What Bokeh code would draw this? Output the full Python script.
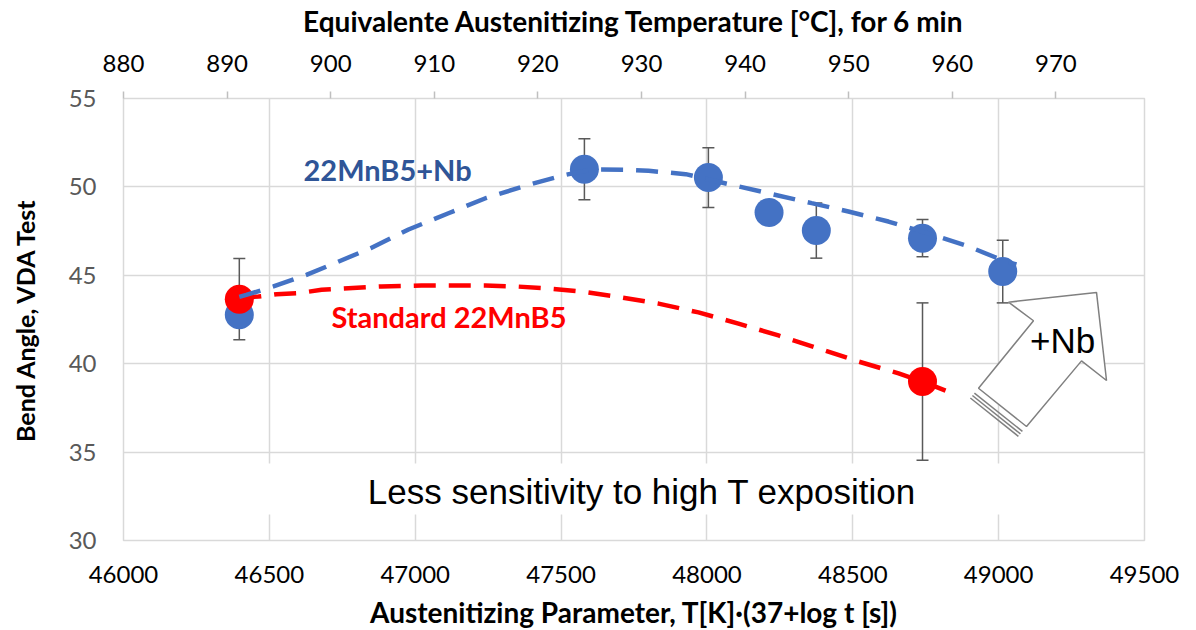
from bokeh.plotting import figure
from bokeh.models import Range1d, LinearAxis, FixedTicker, BoxAnnotation
from bokeh.core.properties import value
from bokeh.embed import file_html
from bokeh.resources import INLINE

# ---------------- data ----------------
x_ticks = [46000, 46500, 47000, 47500, 48000, 48500, 49000, 49500]
y_ticks = [30, 35, 40, 45, 50, 55]
temp_ticks = [880, 890, 900, 910, 920, 930, 940, 950, 960, 970]

nb_x = [46397, 47580, 48005, 48213, 48375, 48739, 49014]
nb_y = [42.77, 51.0, 50.53, 48.55, 47.53, 47.1, 45.21]
nb_err = [None, 1.72, 1.69, None, 1.56, 1.05, 1.77]

std_x = [46397, 48739]
std_y = [43.65, 38.99]
std_err = [2.3, 4.45]

nb_curve_x = [46397, 46421, 46514, 46627, 46713, 46847, 46977, 47114, 47241, 47388,
              47515, 47604, 47721, 47800, 47927, 48084, 48211, 48359, 48485, 48622,
              48770, 48897, 49024, 49061]
nb_curve_y = [43.78, 43.89, 44.37, 45.02, 45.61, 46.53, 47.59, 48.51, 49.36, 50.12,
              50.68, 50.98, 50.97, 50.91, 50.72, 50.12, 49.64, 49.08, 48.61, 48.04,
              47.31, 46.63, 45.78, 45.61]

std_curve_x = [46397, 46463, 46525, 46600, 46679, 46771, 46884, 47022, 47138, 47241,
               47344, 47447, 47570, 47687, 47834, 47971, 48108, 48245, 48383, 48520,
               48657, 48739, 48818]
std_curve_y = [43.74, 43.80, 43.93, 43.99, 44.18, 44.27, 44.37, 44.42, 44.42, 44.42,
               44.37, 44.27, 44.08, 43.80, 43.40, 42.90, 42.27, 41.60, 40.86, 40.12,
               39.45, 38.99, 38.48]

top_title = "Equivalente Austenitizing Temperature [°C], for 6 min"
bottom_title = "Austenitizing Parameter, T[K]·(37+log t [s])"
left_title = "Bend Angle, VDA Test"
nb_label = "22MnB5+Nb"
std_label = "Standard 22MnB5"
note = "Less sensitivity to high T exposition"
arrow_label = "+Nb"

BLUE = "#4472C4"
RED = "#FF0000"
GRID = "#D9D9D9"
ERR = "#595959"
FONT = "Lato"
TICK_FS = "24px"
TITLE_FS = "28px"

# ---------------- figure ----------------
X0, X1 = 46000, 49500
Y0, Y1 = 30, 55
p = figure(frame_width=1021, frame_height=442, x_range=Range1d(X0, X1), y_range=Range1d(Y0, Y1),
           output_backend="svg", toolbar_location=None,
           min_border_left=123, min_border_right=36, min_border_top=80, min_border_bottom=70)
p.extra_x_ranges = {"temp": Range1d(880, 978.55)}
p.outline_line_color = GRID
p.outline_line_width = 1.5
p.background_fill_color = "white"
p.border_fill_color = "white"

# bottom axis
xa = p.xaxis[0]
xa.ticker = FixedTicker(ticks=x_ticks)
xa.major_label_overrides = {t: str(t) for t in x_ticks}
xa.axis_line_color = None
xa.major_tick_line_color = None
xa.minor_tick_line_color = None
xa.major_tick_out = 0
xa.major_tick_in = 0
xa.major_label_standoff = 25
xa.major_label_text_font = FONT
xa.major_label_text_font_size = TICK_FS
xa.major_label_text_color = "#000000"
xa.axis_label = bottom_title
xa.axis_label_text_font = FONT
xa.axis_label_text_font_style = "bold"
xa.axis_label_text_font_size = TITLE_FS
xa.axis_label_text_color = "#000000"
xa.axis_label_standoff = 9

# left axis
ya = p.yaxis[0]
ya.ticker = FixedTicker(ticks=y_ticks)
ya.axis_line_color = None
ya.major_tick_line_color = None
ya.minor_tick_line_color = None
ya.major_tick_out = 0
ya.major_tick_in = 0
ya.major_label_standoff = 27
ya.major_label_text_font = FONT
ya.major_label_text_font_size = TICK_FS
ya.major_label_text_color = "#595959"
ya.axis_label = left_title
ya.axis_label_text_font = FONT
ya.axis_label_text_font_style = "bold"
ya.axis_label_text_font_size = "25px"
ya.axis_label_text_color = "#000000"
ya.axis_label_standoff = 26

# top axis
ta = LinearAxis(x_range_name="temp", ticker=FixedTicker(ticks=temp_ticks))
ta.axis_line_color = None
ta.major_tick_out = 7
ta.major_tick_in = 0
ta.major_tick_line_color = "#BFBFBF"
ta.major_tick_line_width = 1.5
ta.minor_tick_line_color = None
ta.major_label_standoff = 20
ta.major_label_text_font = FONT
ta.major_label_text_font_size = TICK_FS
ta.major_label_text_color = "#000000"
ta.axis_label = top_title
ta.axis_label_text_font = FONT
ta.axis_label_text_font_style = "bold"
ta.axis_label_text_font_size = TITLE_FS
ta.axis_label_text_color = "#000000"
ta.axis_label_standoff = 14
p.add_layout(ta, "above")

# grid
p.xgrid.ticker = FixedTicker(ticks=x_ticks)
p.ygrid.ticker = FixedTicker(ticks=y_ticks)
for g in (p.xgrid[0], p.ygrid[0]):
    g.grid_line_color = GRID
    g.grid_line_width = 1.5

# white text box covering grid
p.add_layout(BoxAnnotation(left=46446, right=49041, bottom=31.47, top=34.36,
                           fill_color="white", fill_alpha=1.0, line_color=None,
                           level="underlay"))

# error bars (drawn beneath markers)
ex, elo, ehi = [], [], []
for x, y, e in zip(nb_x, nb_y, nb_err):
    if e is not None:
        ex.append(x); elo.append(y - e); ehi.append(y + e)
for x, y, e in zip(std_x, std_y, std_err):
    ex.append(x); elo.append(y - e); ehi.append(y + e)
p.segment(x0=ex, y0=elo, x1=ex, y1=ehi, line_color=ERR, line_width=1.5)
p.scatter(ex + ex, elo + ehi, marker="dash", size=12, line_color=ERR, line_width=1.5)

# markers
p.scatter(nb_x, nb_y, marker="circle", size=29, fill_color=BLUE, line_color=None)
p.scatter(std_x, std_y, marker="circle", size=29, fill_color=RED, line_color=None)

# trend curves
p.line(std_curve_x, std_curve_y, line_color=RED, line_width=4.5, line_dash="22 13")
p.line(nb_curve_x, nb_curve_y, line_color=BLUE, line_width=4.5, line_dash="22 13")

# labels
p.text(x=[46617], y=[50.98], text=[nb_label], text_font=value(FONT), text_font_style="bold",
       text_font_size="29px", text_color="#2F5597", text_baseline="middle", text_align="left")
p.text(x=[46713], y=[42.67], text=[std_label], text_font=value(FONT), text_font_style="bold",
       text_font_size="29px", text_color=RED, text_baseline="middle", text_align="left")
p.text(x=[47778], y=[32.77], text=[note], text_font=value("Liberation Sans"),
       text_font_size="35px", text_color="#000000", text_baseline="middle", text_align="center")

# striped block arrow annotation (data units)
arrow_x = [49033.8, 49335.5, 49369.8, 49284.1, 49095.5, 48931.0, 49119.5]
arrow_y = [43.48, 44.03, 39.05, 40.16, 36.45, 38.61, 42.43]
p.patch(arrow_x, arrow_y, fill_color="white", line_color="#808080", line_width=1.5)
stripe_x = [[48917.0, 49081.5], [48910.0, 49074.6], [48903.0, 49067.7]]
stripe_y = [[38.34, 36.17], [38.20, 36.03], [38.06, 35.89]]
p.multi_line(stripe_x, stripe_y, line_color="#808080", line_width=1.5)
p.text(x=[49219], y=[41.31], text=[arrow_label], text_font=value("Liberation Sans"),
       text_font_size="35px", text_color="#000000", text_baseline="middle", text_align="center")

open("out.html", "w").write(file_html(p, INLINE))
